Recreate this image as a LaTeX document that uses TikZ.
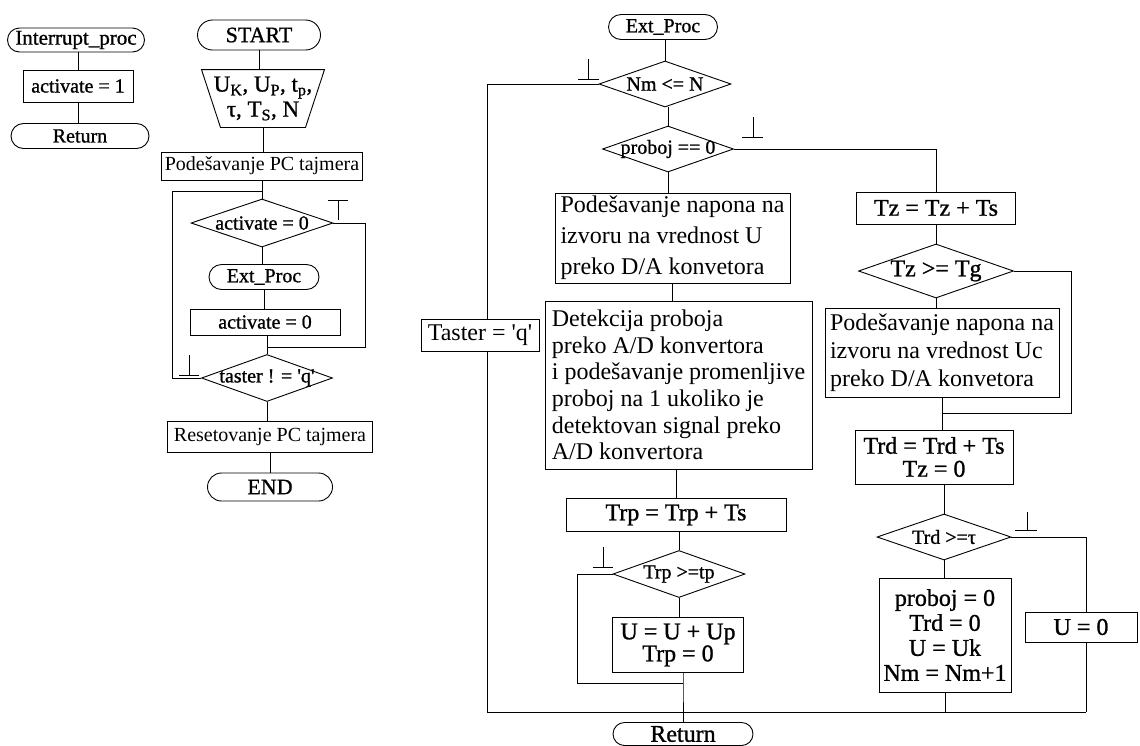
\documentclass[tikz,border=0pt]{standalone}
\usepackage{fontspec}
\setmainfont{Liberation Serif}
\newfontfamily\hv{Liberation Serif}[FakeBold=1]
\usetikzlibrary{shapes.geometric,shapes.misc}
\newcommand{\fsa}{\hv\fontsize{20}{24}\selectfont}
\newcommand{\fsb}{\hv\fontsize{24}{29}\selectfont}
\newcommand{\fsr}{\fontsize{20}{24}\selectfont}
\newcommand{\qq}{\textquotesingle}
\begin{document}
\begin{tikzpicture}[x=1pt,y=-1pt,line width=0.9pt,
  term/.style={draw,rounded rectangle,inner sep=0pt},
  proc/.style={draw,rectangle,inner sep=0pt},
  dec/.style={draw,diamond,inner sep=0pt},
  tick/.style={line width=0.9pt}]
\useasboundingbox (0,0) rectangle (1140,745);

% ---------- Interrupt routine ----------
\node[term,minimum width=137,minimum height=24,font=\hv\fontsize{21}{24}\selectfont] (ip) at (76,40) {Interrupt\_proc};
\node[proc,minimum width=110,minimum height=32,font=\fsa] (a1) at (78,86) {activate = 1};
\node[term,minimum width=138,minimum height=25,font=\fsa] (r1) at (80,136) {Return};
\draw (a1.north) -- (a1.north |- ip.south);
\draw (a1.south) -- (a1.south |- r1.north);

% ---------- Main ----------
\node[term,minimum width=123,minimum height=30,font=\hv\fontsize{22}{24}\selectfont] (st) at (259,35) {START};
\node[inner sep=0pt,minimum width=123,minimum height=57,align=center,font=\hv\fontsize{23}{25}\selectfont] (inp) at (263,98.5)
  {U\textsubscript{K}, U\textsubscript{P}, t\textsubscript{p},\\ τ, T\textsubscript{S}, N};
\draw ([xshift=-61.5pt]inp.north) -- ([xshift=61.5pt]inp.north) -- ([xshift=42.5pt]inp.south) -- ([xshift=-42.5pt]inp.south) -- cycle;
\node[proc,minimum width=201,minimum height=28,font=\fsr] (pc) at (262,166) {Podešavanje PC tajmera};
\node[dec,minimum width=142,minimum height=48,label={[font=\fsa]center:activate = 0}] (d1) at (262,223) {};
\node[term,minimum width=110,minimum height=25,font=\fsa] (ep) at (264,277) {Ext\_Proc};
\node[proc,minimum width=150,minimum height=26,font=\fsa] (a0) at (265,322) {activate = 0};
\node[dec,minimum width=131,minimum height=47,label={[font=\fsa]center:taster ! = \qq q\qq}] (d2) at (267,378) {};
\node[proc,minimum width=205,minimum height=31,font=\fsr] (rs) at (270,437) {Resetovanje PC tajmera};
\node[term,minimum width=125,minimum height=28,font=\hv\fontsize{22}{24}\selectfont] (en) at (270,487) {END};

\coordinate (lA) at (172,191);
\coordinate (rA) at (365,347);
\draw (st.south) -- (st.south |- inp.north);
\draw (inp.south) -- (inp.south |- pc.north);
\draw (pc.south) -- (d1.north);
\draw (d1.south) -- (d1.south |- ep.north);
\draw (ep.south) -- (ep.south |- a0.north);
\draw (a0.south -| d2.north) -- (d2.north);
\draw (d2.south) -- (d2.south |- rs.north);
\draw (rs.south) -- (rs.south |- en.north);
\draw (d2.west) -| (lA) -- (lA -| d1.north);
\draw (d1.east) -| (rA) -- (rA -| d2.north);
% markers
\draw[tick] (328,200) -- (348,200) (338,200) -- (338,220);
\draw[tick] (179,375) -- (199,375) (189,375) -- (189,355);

% ---------- Ext_Proc ----------
\node[term,minimum width=109,minimum height=25,font=\fsa] (ep2) at (663,27) {Ext\_Proc};
\node[dec,minimum width=132,minimum height=46,label={[font=\fsa]center:Nm <= N}] (dn) at (665,84) {};
\node[dec,minimum width=131,minimum height=46,label={[font=\fsa]center:proboj == 0}] (dp) at (668,149) {};
\node[proc,minimum width=235,minimum height=90,align=left,font=\fontsize{24}{31}\selectfont] (b1) at (672.5,238)
  {Podešavanje napona na\\ izvoru na vrednost U\\ preko D/A konvetora};
\node[proc,minimum width=118,minimum height=32,font=\fontsize{24}{29}\selectfont] (ts) at (480,335) {Taster = \qq q\qq};
\node[proc,minimum width=267,minimum height=168,align=left,font=\fontsize{24}{26.7}\selectfont] (b2) at (678.5,385)
  {Detekcija proboja\\ preko A/D konvertora\\ i podešavanje promenljive\\ proboj na 1 ukoliko je\\ detektovan signal preko\\ A/D konvertora};
\node[proc,minimum width=220,minimum height=33,font=\fsb] (b3) at (676,515) {Trp = Trp + Ts};
\node[dec,minimum width=132,minimum height=47,label={[font=\fsa]center:Trp >=tp}] (dt) at (679,574) {};
\node[proc,minimum width=131,minimum height=55,align=center,font=\hv\fontsize{24}{22}\selectfont] (b4) at (678,645) {U = U + Up\\ Trp = 0};
\node[term,minimum width=140,minimum height=23,font=\fsb] (rt) at (683,734) {Return};

\coordinate (cL) at (487,712);
\coordinate (cR) at (1086,712);
\coordinate (lB) at (577,683);
\coordinate (jB) at (683,683);
\draw (dn.north |- ep2.south) -- (dn.north);
\draw (dp.north |- dn.south) -- (dp.north);
\draw (dp.south) -- (dp.south |- b1.north);
\draw (b1.south) -- (b1.south |- b2.north);
\draw (b2.south -| b3.north) -- (b3.north);
\draw (dt.north |- b3.south) -- (dt.north);
\draw (dt.south) -- (dt.south |- b4.north);
\draw (dt.west) -| (lB) -- (jB);
\draw (b4.south -| jB) -- (jB) -- (rt.north);
\draw (dn.west) -| (ts.north -| cL);
\draw (ts.south -| cL) -- (cL) -- (cR);
% markers
\draw[tick] (578,79) -- (599,79) (588,79) -- (588,59);
\draw[tick] (742,137) -- (763,137) (753,137) -- (753,117);
\draw[tick] (593,567) -- (613,567) (603,567) -- (603,547);

% ---------- right branch ----------
\node[proc,minimum width=159,minimum height=32,font=\fsb] (tz) at (936,208) {Tz = Tz + Ts};
\node[dec,minimum width=155,minimum height=54,label={[font=\fsb]center:Tz >= Tg}] (dg) at (936,271) {};
\node[proc,minimum width=234,minimum height=89,align=left,font=\fontsize{24}{28}\selectfont] (b5) at (942,352.5)
  {Podešavanje napona na\\ izvoru na vrednost Uc\\ preko D/A konvetora};
\node[proc,minimum width=158,minimum height=54,align=center,font=\hv\fontsize{24}{23}\selectfont] (b6) at (934,457) {Trd = Trd + Ts\\ Tz = 0};
\node[dec,minimum width=134,minimum height=46,label={[font=\fsa]center:Trd >=τ}] (dr) at (944,537) {};
\node[proc,minimum width=132,minimum height=114,align=center,font=\hv\fontsize{24}{25}\selectfont] (b7) at (945,635)
  {proboj = 0\\ Trd = 0\\ U = Uk\\ Nm = Nm+1};
\node[proc,minimum width=112,minimum height=30,font=\fsb] (u0) at (1081,627) {U = 0};

\coordinate (rC) at (1071,413);
\coordinate (jC) at (942,413);
\draw (dp.east) -| (tz.north);
\draw (tz.south) -- (dg.north);
\draw (dg.south) -- (dg.south |- b5.north);
\draw (b5.south) -- (b5.south |- b6.north);
\draw (dg.east) -| (rC) -- (jC);
\draw (dr.north |- b6.south) -- (dr.north);
\draw (dr.south) -- (dr.south |- b7.north);
\draw (b7.south) -- (b7.south |- cL);
\draw (dr.east) -| (u0.north -| cR);
\draw (u0.south -| cR) -- (cR);
\draw[tick] (1015,530) -- (1037,530) (1027,530) -- (1027,512);
\end{tikzpicture}
\end{document}
